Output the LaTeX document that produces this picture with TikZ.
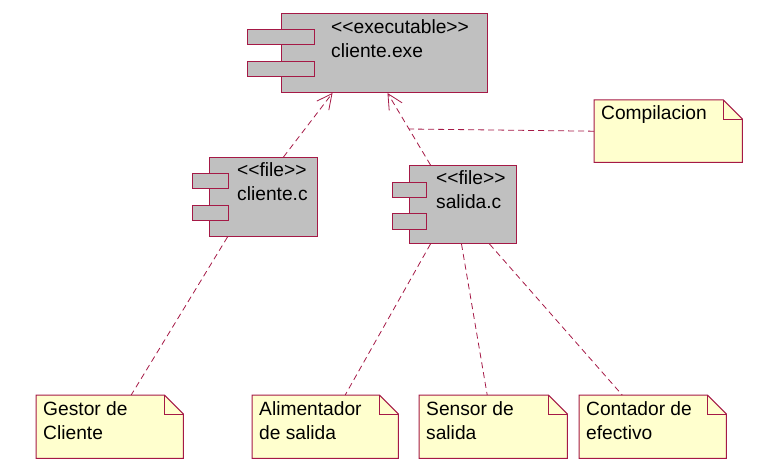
\documentclass[tikz,border=0pt]{standalone}
\usepackage{fontspec}
\setmainfont{Liberation Sans}
\usetikzlibrary{arrows.meta}
\definecolor{umlred}{RGB}{165,25,70}
\definecolor{compgray}{RGB}{192,192,192}
\definecolor{noteyellow}{RGB}{255,255,206}
\tikzset{>={Straight Barb[length=15pt,width=15pt]}}
\tikzstyle{comp}=[draw=umlred, fill=compgray, line width=1pt, inner sep=0pt, anchor=north west]
\tikzstyle{tab}=[comp]
\tikzstyle{nota}=[inner sep=0pt, anchor=north west]
\tikzstyle{txt}=[anchor=base west, align=left, inner sep=0pt, font=\fontsize{19.2}{24}\selectfont]
\tikzstyle{dep}=[draw=umlred, line width=0.8pt, dash pattern=on 6pt off 4pt]

\begin{document}
\begin{tikzpicture}[x=1pt, y=-1pt]
	\useasboundingbox (0,0) rectangle (771,470);

	% componentes
	\node[comp, minimum width=206, minimum height=79] (exe) at (281,13) {};
	\node[tab, minimum width=67, minimum height=15] (exe-t1) at (247,29) {};
	\node[tab, minimum width=67, minimum height=15] (exe-t2) at (247,61) {};
	\node[txt] (exe-txt) at (331,58) {<{}<executable>{}>\\cliente.exe};

	\node[comp, minimum width=108, minimum height=79] (cfile) at (209,157) {};
	\node[tab, minimum width=36, minimum height=15] (cfile-t1) at (192,173) {};
	\node[tab, minimum width=36, minimum height=15] (cfile-t2) at (192,205) {};
	\node[txt] (cfile-txt) at (237,201) {<{}<file>{}>\\cliente.c};

	\node[comp, minimum width=107, minimum height=78] (sfile) at (409,165) {};
	\node[tab, minimum width=34, minimum height=15] (sfile-t1) at (392,182) {};
	\node[tab, minimum width=34, minimum height=16] (sfile-t2) at (392,213) {};
	\node[txt] (sfile-txt) at (436,209) {<{}<file>{}>\\salida.c};

	% notas
	\node[nota, minimum width=148, minimum height=62] (compil) at (594,100) {};
	\node[nota, minimum width=147, minimum height=63] (gestor) at (36,395) {};
	\node[nota, minimum width=146, minimum height=63] (alim) at (252,395) {};
	\node[nota, minimum width=148, minimum height=63] (sensor) at (419,395) {};
	\node[nota, minimum width=147, minimum height=63] (contador) at (579,395) {};
	\foreach \n in {compil,gestor,alim,sensor,contador}{
		\draw[draw=umlred, fill=noteyellow, line width=1pt]
			(\n.north west) -- ([xshift=-19]\n.north east) -- ([yshift=-19]\n.north east)
			-- (\n.south east) -- (\n.south west) -- cycle;
		\draw[draw=umlred, line width=0.6pt]
			([xshift=-19]\n.north east) |- ([yshift=-19]\n.north east);
	}
	\node[txt] (compil-txt) at (601,120) {Compilacion};
	\node[txt] (gestor-txt) at (43,439) {Gestor de\\Cliente};
	\node[txt] (alim-txt) at (259,439) {Alimentador\\de salida};
	\node[txt] (sensor-txt) at (426,439) {Sensor de\\salida};
	\node[txt] (contador-txt) at (586,439) {Contador de\\efectivo};

	% dependencias
	\draw[dep,->] ([xshift=20]cfile.north) -- ([xshift=-52]exe.south);
	\draw[dep,->] ([xshift=-32.5]sfile.north) -- coordinate[pos=0.5] (mid) ([xshift=3]exe.south);
	\draw[dep] (compil.west) -- (mid);

	\draw[dep] ([xshift=-36]cfile.south) -- ([xshift=21.5]gestor.north);
	\draw[dep] ([xshift=-32.5]sfile.south) -- ([xshift=20]alim.north);
	\draw[dep] ([xshift=-1.5]sfile.south) -- ([xshift=-6]sensor.north);
	\draw[dep] ([xshift=26.5]sfile.south) -- ([xshift=-30.5]contador.north);
\end{tikzpicture}
\end{document}
